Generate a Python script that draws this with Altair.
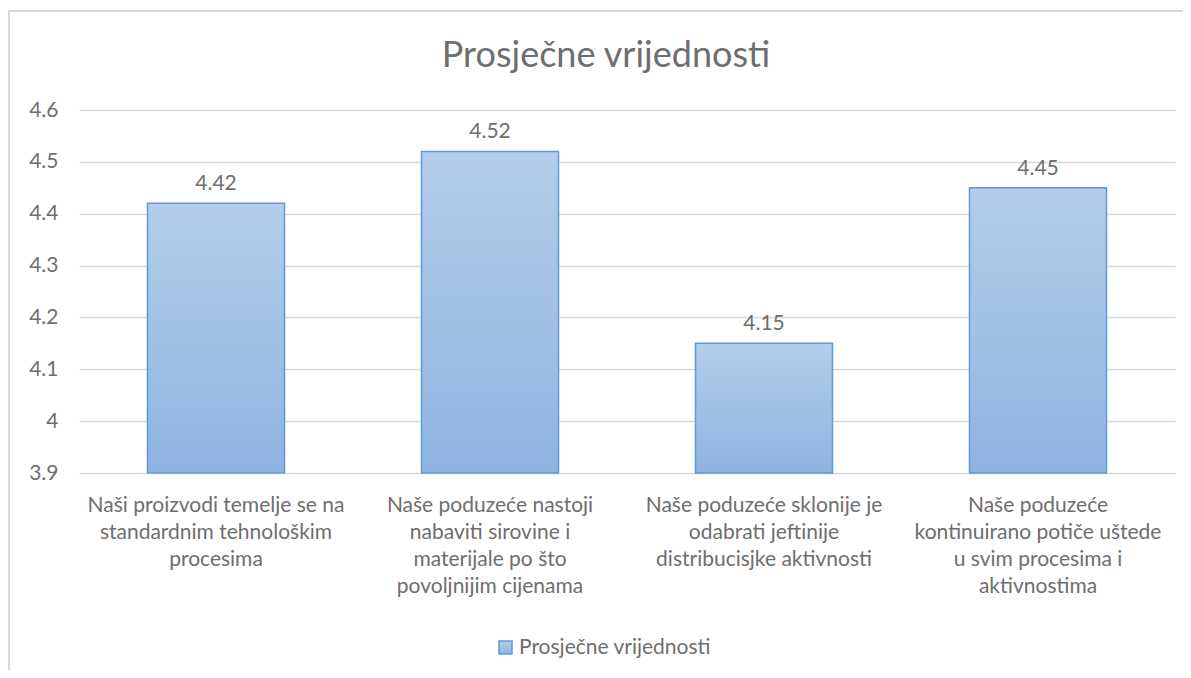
import altair as alt
import pandas as pd

# ---- data ----
label_lines = [
    ["Naši proizvodi temelje se na", "standardnim tehnološkim", "procesima"],
    ["Naše poduzeće nastoji", "nabaviti sirovine i", "materijale po što", "povoljnijim cijenama"],
    ["Naše poduzeće sklonije je", "odabrati jeftinije", "distribucisjke aktivnosti"],
    ["Naše poduzeće", "kontinuirano potiče uštede", "u svim procesima i", "aktivnostima"],
]
values = [4.42, 4.52, 4.15, 4.45]
y_ticks = [3.9, 4.0, 4.1, 4.2, 4.3, 4.4, 4.5, 4.6]
series_name = "Prosječne vrijednosti"
chart_title = "Prosječne vrijednosti"

categories = ["|".join(l) for l in label_lines]
df = pd.DataFrame({"category": categories, "value": values, "series": series_name})

FONT = "Lato"
GREY = "#6e6e6e"
W, H = 1096, 363
FS = 21

gradient = alt.LinearGradient(
    gradient="linear",
    stops=[alt.GradientStop(color="#b3cdea", offset=0),
           alt.GradientStop(color="#8fb4e2", offset=1)],
    x1=0, x2=0, y1=0, y2=1,
)

x_enc = alt.X(
    "category:N", sort=categories, title=None,
    scale=alt.Scale(paddingInner=0.5, paddingOuter=0.25),
    axis=alt.Axis(labelExpr="split(datum.label, '|')", labelAngle=0,
                  labelFontSize=FS, labelColor=GREY, labelFont=FONT,
                  labelLineHeight=27, labelPadding=21, ticks=False,
                  domain=False, grid=False, labelLimit=0,
                  labelBaseline="top"),
)
y_scale = alt.Scale(domain=[3.9, 4.6], zero=False, nice=False)

bars = alt.Chart(df).mark_bar(fill=gradient, strokeWidth=1.5).encode(
    x=x_enc,
    y=alt.Y("value:Q", scale=y_scale, title=None,
            axis=alt.Axis(values=y_ticks, format="~g", ticks=False, domain=False,
                          labelFontSize=FS, labelColor=GREY, labelFont=FONT,
                          labelPadding=21, gridColor="#d9d9d9", gridWidth=1.3)),
    y2=alt.datum(3.9),
    stroke=alt.Stroke(
        "series:N", title=None,
        scale=alt.Scale(range=["#5b9bd5"]),
        legend=alt.Legend(orient="none", legendX=416, legendY=527,
                          symbolType="square", symbolSize=170,
                          symbolFillColor="#a5c3e8", symbolStrokeWidth=1.5,
                          labelFontSize=FS, labelColor=GREY, labelFont=FONT,
                          labelOffset=3, labelLimit=0),
    ),
)

labels = alt.Chart(df).mark_text(
    baseline="bottom", dy=-9, fontSize=FS, font=FONT, color=GREY
).encode(
    x=alt.X("category:N", sort=categories),
    y=alt.Y("value:Q", scale=y_scale),
    text=alt.Text("value:Q", format=".2f"),
)

title = alt.Chart(pd.DataFrame({"t": [chart_title]})).mark_text(
    fontSize=36, font=FONT, color=GREY, align="center", baseline="alphabetic"
).encode(
    x=alt.value(527), y=alt.value(-43), text="t:N",
)

frame = alt.Chart(pd.DataFrame({"f": [0]})).mark_rect(
    fill=None, stroke="#d9d9d9", strokeWidth=2, clip=False
).encode(
    x=alt.value(-70), x2=alt.value(1140),
    y=alt.value(-99), y2=alt.value(620),
)

chart = alt.layer(frame, title, bars, labels).properties(
    width=W, height=H,
    padding={"left": 71, "top": 102, "right": 8, "bottom": 197},
    autosize=alt.AutoSizeParams(type="none"),
).configure_view(stroke=None)

chart.save("out.html", embed_options={"renderer": "svg", "actions": False})
